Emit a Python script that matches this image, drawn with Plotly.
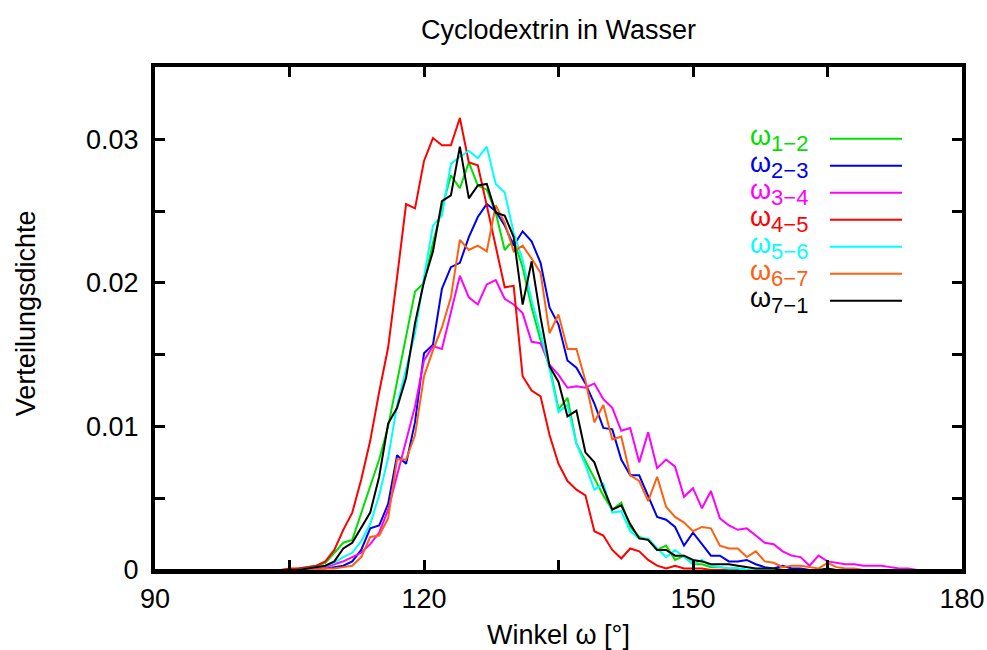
import plotly.graph_objects as go

# Winkel (Grad), 1-Grad-Bins von 90 bis 180
angles = list(range(90, 181))

w12 = [
    0, 0, 0, 0, 0, 0, 0, 0, 0, 0,
    0, 0, 0, 0, 0, 0, 0.0001, 0.0002, 0.0003, 0.0005,
    0.0012, 0.0019, 0.0021, 0.0040, 0.0058, 0.0077, 0.0100, 0.0132, 0.0164, 0.0194,
    0.0200, 0.0228, 0.0252, 0.0275, 0.0266, 0.0284, 0.0268, 0.0265, 0.0249, 0.0223,
    0.0230, 0.0211, 0.0183, 0.0160, 0.0142, 0.0112, 0.0120, 0.0088, 0.0076, 0.0064,
    0.0052, 0.0042, 0.0047, 0.0030, 0.0023, 0.0021, 0.0014, 0.0017, 0.0007, 0.0010,
    0.0004, 0.0004, 0.0002, 0.0002, 0.0001, 0.0001, 0, 0, 0, 0,
    0, 0, 0, 0, 0, 0, 0, 0, 0, 0,
    0, 0, 0, 0, 0, 0, 0, 0, 0, 0,
    0,
]
w23 = [
    0, 0, 0, 0, 0, 0, 0, 0, 0, 0,
    0, 0, 0, 0, 0, 0, 0, 0, 0.0001, 0.0001,
    0.0002, 0.0003, 0.0006, 0.0014, 0.0029, 0.0031, 0.0046, 0.0080, 0.0074, 0.0103,
    0.0151, 0.0157, 0.0196, 0.0211, 0.0214, 0.0232, 0.0246, 0.0255, 0.0250, 0.0240,
    0.0226, 0.0236, 0.0229, 0.0214, 0.0183, 0.0171, 0.0146, 0.0141, 0.0130, 0.0116,
    0.0099, 0.0098, 0.0077, 0.0066, 0.0066, 0.0051, 0.0037, 0.0035, 0.0030, 0.0017,
    0.0026, 0.0018, 0.0010, 0.0010, 0.0006, 0.0006, 0.0007, 0.0004, 0.0002, 0.0001,
    0.0003, 0.0001, 0.0001, 0, 0, 0, 0, 0, 0, 0,
    0, 0, 0, 0, 0, 0, 0, 0, 0, 0,
    0,
]
w34 = [
    0, 0, 0, 0, 0, 0, 0, 0, 0, 0,
    0, 0, 0, 0, 0, 0, 0, 0, 0.0001, 0.0002,
    0.0004, 0.0006, 0.0009, 0.0012, 0.0018, 0.0026, 0.0042, 0.0066, 0.0091, 0.0114,
    0.0146, 0.0156, 0.0154, 0.0180, 0.0205, 0.0190, 0.0185, 0.0199, 0.0202, 0.0189,
    0.0185, 0.0179, 0.0159, 0.0158, 0.0143, 0.0136, 0.0127, 0.0128, 0.0127, 0.0130,
    0.0119, 0.0113, 0.0097, 0.0099, 0.0075, 0.0096, 0.0071, 0.0077, 0.0072, 0.0051,
    0.0057, 0.0043, 0.0055, 0.0036, 0.0031, 0.0028, 0.0029, 0.0024, 0.0019, 0.0018,
    0.0013, 0.0010, 0.0009, 0.0003, 0.0010, 0.0006, 0.0005, 0.0004, 0.0004, 0.0003,
    0.0003, 0.0003, 0.0002, 0.0001, 0.0001, 0, 0, 0, 0, 0,
    0,
]
w45 = [
    0, 0, 0, 0, 0, 0, 0, 0, 0, 0,
    0, 0, 0, 0, 0, 0.0001, 0.0001, 0.0002, 0.0003, 0.0006,
    0.0014, 0.0028, 0.0040, 0.0063, 0.0090, 0.0124, 0.0155, 0.0204, 0.0255, 0.0252,
    0.0285, 0.0301, 0.0296, 0.0296, 0.0315, 0.0284, 0.0282, 0.0254, 0.0226, 0.0197,
    0.0198, 0.0135, 0.0125, 0.0121, 0.0094, 0.0074, 0.0062, 0.0056, 0.0052, 0.0027,
    0.0024, 0.0014, 0.0008, 0.0015, 0.0013, 0.0007, 0.0003, 0.0001, 0.0003, 0.0001,
    0.0001, 0.0001, 0, 0, 0, 0, 0, 0, 0, 0,
    0, 0, 0, 0, 0, 0, 0, 0, 0, 0,
    0, 0, 0, 0, 0, 0, 0, 0, 0, 0,
    0,
]
w56 = [
    0, 0, 0, 0, 0, 0, 0, 0, 0, 0,
    0, 0, 0, 0, 0, 0, 0, 0.0001, 0.0002, 0.0003,
    0.0005, 0.0009, 0.0012, 0.0020, 0.0032, 0.0052, 0.0078, 0.0115, 0.0140, 0.0165,
    0.0204, 0.0240, 0.0247, 0.0283, 0.0288, 0.0292, 0.0287, 0.0295, 0.0269, 0.0263,
    0.0235, 0.0216, 0.0188, 0.0165, 0.0140, 0.0110, 0.0115, 0.0088, 0.0073, 0.0056,
    0.0060, 0.0040, 0.0041, 0.0027, 0.0022, 0.0022, 0.0015, 0.0009, 0.0014, 0.0009,
    0.0004, 0.0007, 0.0003, 0.0002, 0.0001, 0.0001, 0, 0, 0, 0,
    0, 0, 0, 0, 0, 0, 0, 0, 0, 0,
    0, 0, 0, 0, 0, 0, 0, 0, 0, 0,
    0,
]
w67 = [
    0, 0, 0, 0, 0, 0, 0, 0, 0, 0,
    0, 0, 0, 0, 0, 0, 0, 0, 0, 0.0001,
    0.0001, 0.0002, 0.0003, 0.0009, 0.0023, 0.0024, 0.0036, 0.0077, 0.0077, 0.0094,
    0.0135, 0.0153, 0.0169, 0.0190, 0.0230, 0.0223, 0.0226, 0.0222, 0.0254, 0.0242,
    0.0222, 0.0226, 0.0217, 0.0207, 0.0165, 0.0178, 0.0154, 0.0154, 0.0132, 0.0103,
    0.0115, 0.0091, 0.0093, 0.0066, 0.0062, 0.0048, 0.0065, 0.0044, 0.0037, 0.0033,
    0.0027, 0.0030, 0.0029, 0.0017, 0.0015, 0.0015, 0.0009, 0.0013, 0.0006, 0.0005,
    0.0002, 0.0003, 0.0003, 0.0002, 0.0001, 0.0005, 0.0002, 0.0001, 0.0001, 0,
    0, 0, 0, 0, 0, 0, 0, 0, 0, 0,
    0,
]
w71 = [
    0, 0, 0, 0, 0, 0, 0, 0, 0, 0,
    0, 0, 0, 0, 0, 0, 0, 0.0001, 0.0002, 0.0003,
    0.0006, 0.0015, 0.0019, 0.0030, 0.0040, 0.0065, 0.0102, 0.0113, 0.0134, 0.0172,
    0.0201, 0.0222, 0.0257, 0.0261, 0.0295, 0.0259, 0.0268, 0.0269, 0.0249, 0.0247,
    0.0232, 0.0185, 0.0215, 0.0176, 0.0142, 0.0131, 0.0107, 0.0111, 0.0082, 0.0075,
    0.0057, 0.0042, 0.0045, 0.0032, 0.0022, 0.0021, 0.0014, 0.0014, 0.0010, 0.0010,
    0.0007, 0.0006, 0.0004, 0.0004, 0.0004, 0.0003, 0.0002, 0.0001, 0.0001, 0.0001,
    0, 0, 0, 0, 0, 0.0001, 0, 0, 0, 0,
    0, 0, 0, 0, 0, 0, 0, 0, 0, 0,
    0,
]

series_labels = ["1−2", "2−3", "3−4", "4−5", "5−6", "6−7", "7−1"]
series_values = [w12, w23, w34, w45, w56, w67, w71]
series_colors = ["#00e000", "#0000f0", "#ff00ff", "#ff0000", "#00ffff", "#ff6010", "#000000"]

x_tickvals = [90, 120, 150, 180]
x_ticktext = ["90", "120", "150", "180"]
y_tickvals = [0, 0.01, 0.02, 0.03]
y_ticktext = ["0", "0.01", "0.02", "0.03"]

FONT = "Liberation Sans, Arial, Helvetica, sans-serif"
FS = 27

fig = go.Figure()
for lab, vals, col in zip(series_labels, series_values, series_colors):
    fig.add_trace(go.Scatter(x=angles, y=vals, mode="lines", name=lab,
                             line=dict(color=col, width=2), showlegend=False))

# manual gnuplot-style legend (text right-aligned, line sample to the right)
leg_y0 = 0.8575
leg_dy = 0.0537
for i, (lab, col) in enumerate(zip(series_labels, series_colors)):
    yy = leg_y0 - i * leg_dy
    fig.add_annotation(xref="paper", yref="paper", x=0.8116, y=yy,
                       xanchor="right", yanchor="middle", showarrow=False,
                       text=f"ω<sub><span style='font-size:22px'>{lab}</span></sub>",
                       font=dict(family=FONT, size=FS, color=col))
    fig.add_shape(type="line", xref="paper", yref="paper",
                  x0=0.8364, x1=0.9257, y0=yy, y1=yy,
                  line=dict(color=col, width=2))

axis_common = dict(showline=True, linecolor="black", linewidth=4, mirror="ticks",
                   ticks="inside", ticklen=10, tickwidth=3, tickcolor="black",
                   showgrid=False, zeroline=False, automargin=False,
                   tickfont=dict(family=FONT, size=FS, color="black"))

fig.update_xaxes(range=[90, 180], tickmode="array", tickvals=x_tickvals,
                 ticktext=x_ticktext, ticklabelstandoff=2,
                 minor=dict(tick0=90, dtick=15, ticks="inside", ticklen=10,
                            tickwidth=3, tickcolor="black", showgrid=False),
                 **axis_common)
fig.update_yaxes(range=[0, 0.03505], tickmode="array", tickvals=y_tickvals,
                 ticktext=y_ticktext, ticklabelstandoff=7,
                 minor=dict(tick0=0, dtick=0.005, ticks="inside", ticklen=10,
                            tickwidth=3, tickcolor="black", showgrid=False),
                 **axis_common)

fig.add_annotation(xref="paper", yref="paper", x=0.5, y=-0.1292,
                   xanchor="center", yanchor="middle", showarrow=False,
                   text="Winkel ω [°]", font=dict(family=FONT, size=FS, color="black"))
fig.add_annotation(xref="paper", yref="paper", x=-0.159, y=0.51,
                   xanchor="center", yanchor="middle", showarrow=False, textangle=-90,
                   text="Verteilungsdichte", font=dict(family=FONT, size=FS, color="black"))

fig.update_layout(
    width=987, height=650,
    margin=dict(l=155, r=25, t=67, b=80),
    paper_bgcolor="white", plot_bgcolor="white",
    title=dict(text="Cyclodextrin in Wasser", x=0.5, xref="paper",
               y=1 - 30 / 650, yref="container", xanchor="center", yanchor="middle",
               font=dict(family=FONT, size=FS, color="black")),
    showlegend=False,
)

fig.write_html("out.html")
